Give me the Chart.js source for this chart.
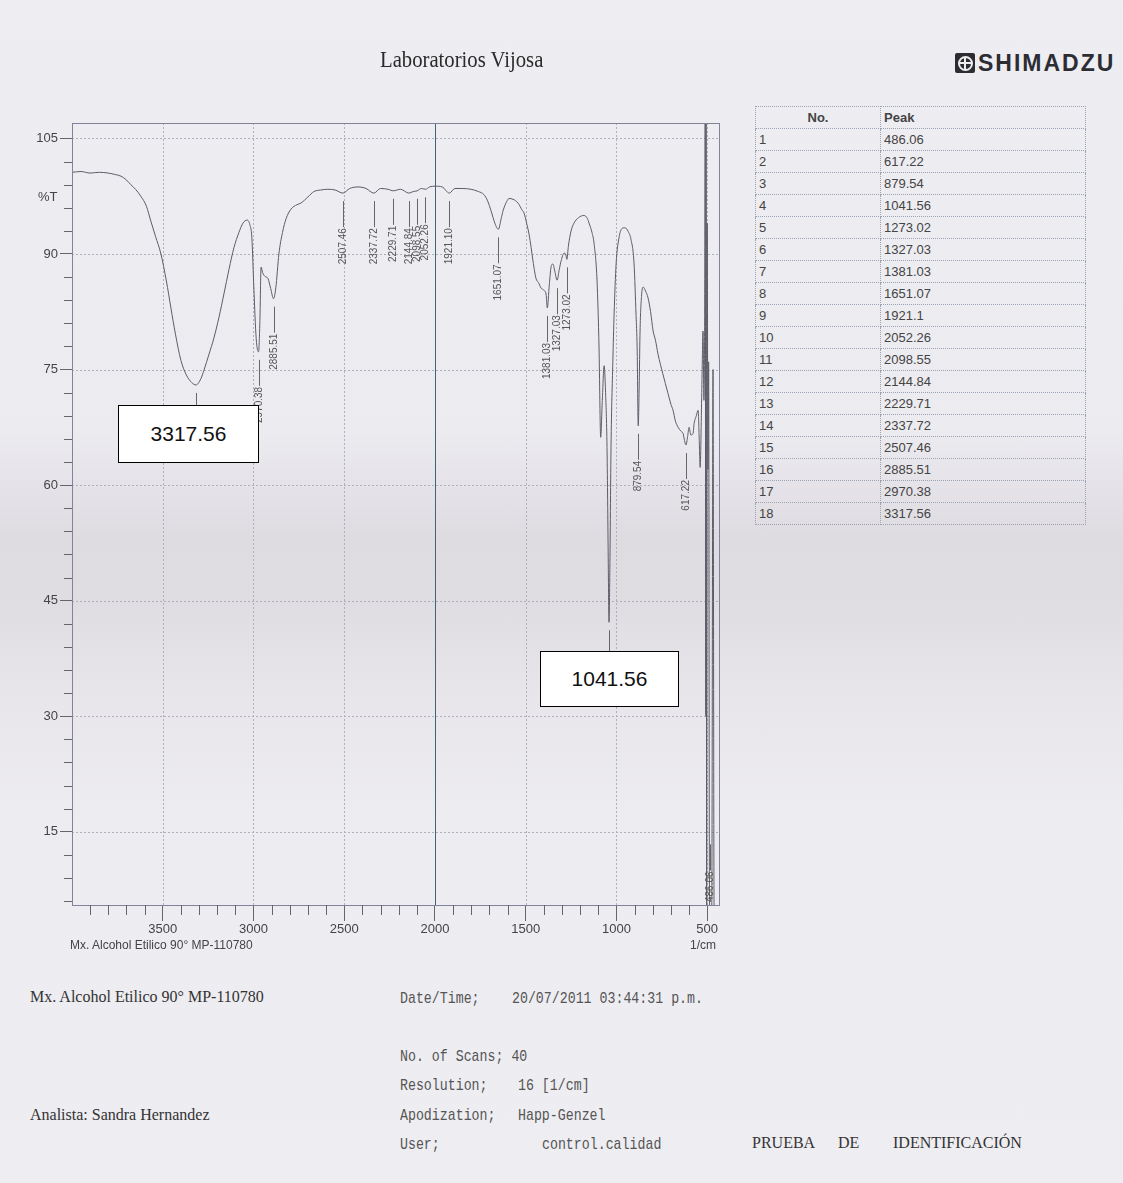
<!DOCTYPE html>
<html>
<head>
<meta charset="utf-8">
<title>Laboratorios Vijosa - Espectro IR</title>
<script src="https://cdn.jsdelivr.net/npm/chart.js@4/dist/chart.umd.min.js"></script>
<style>
html, body { margin: 0; padding: 0; }
body {
  width: 1123px; height: 1183px; position: relative; overflow: hidden;
  background: linear-gradient(to bottom, #eeedf2 0px, #ecebf0 430px, #dedbe1 540px, #dfdce2 600px, #e8e6eb 700px, #edecf0 820px, #eeedf1 1183px);
  font-family: "Liberation Sans", Arial, sans-serif; color: #333;
}
#chart { position: absolute; left: 0; top: 0; }
.abs { position: absolute; white-space: nowrap; }
.serif { font-family: "Liberation Serif", "Times New Roman", serif; color: #333; }
.mono { font-family: "Liberation Mono", "DejaVu Sans Mono", monospace; font-size: 17px; color: #555;
        transform: scaleX(0.78); transform-origin: left center; }
#title { left: 380px; top: 47px; font-size: 23px; transform: scaleX(0.9); transform-origin: left center; color: #2a2a2a; }
#logo { left: 955px; top: 51px; height: 24px; display: flex; align-items: center; }
#logo .mark { width: 20px; height: 20px; background: #2c2c33; border-radius: 2px; position: relative; margin-right: 3px; }
#logo .mark i { position: absolute; left: 3px; top: 3px; width: 11px; height: 11px; border: 2px solid #eee; border-radius: 50%; }
#logo .mark b { position: absolute; background: #eee; }
#logo span { font-weight: bold; font-size: 23px; letter-spacing: 2px; color: #2c2c33; }
#peaks { position: absolute; left: 755px; top: 106px; width: 331px; border-collapse: collapse;
         font-size: 13px; color: #444; }
#peaks td, #peaks th { border: 1px dotted #9aa3b4; height: 21px; padding: 0 3px; line-height: 14px; }
#peaks th { font-weight: bold; }
#peaks th.no { text-align: center; width: 118px; }
#peaks th.pk { text-align: left; }
.box { position: absolute; background: #fff; border: 1px solid #000; font-size: 21px; color: #111;
       display: flex; align-items: center; justify-content: center; }
</style>
</head>
<body>
<canvas id="chart" width="740" height="960"></canvas>

<div id="title" class="abs serif">Laboratorios Vijosa</div>
<div id="logo" class="abs">
  <div class="mark"><i></i><b style="left:9px;top:4px;width:2px;height:12px"></b><b style="left:4px;top:9px;width:12px;height:2px"></b></div>
  <span>SHIMADZU</span>
</div>

<table id="peaks"><thead><tr><th class="no">No.</th><th class="pk">Peak</th></tr></thead><tbody></tbody></table>

<div class="abs" style="left:38px;top:189px;font-size:13px;color:#444">%T</div>
<div class="box" style="left:118px;top:405px;width:139px;height:56px">3317.56</div>
<div class="box" style="left:540px;top:651px;width:137px;height:54px">1041.56</div>

<div class="abs" style="left:70px;top:938px;font-size:12px;color:#444">Mx. Alcohol Etilico 90° MP-110780</div>
<div class="abs" style="left:690px;top:938px;font-size:12px;color:#444">1/cm</div>

<div class="abs serif" style="left:30px;top:988px;font-size:16px">Mx. Alcohol Etilico 90° MP-110780</div>
<div class="abs serif" style="left:30px;top:1106px;font-size:16px">Analista: Sandra Hernandez</div>

<div class="abs mono" style="left:400px;top:989px">Date/Time;</div>
<div class="abs mono" style="left:512px;top:989px">20/07/2011 03:44:31 p.m.</div>
<div class="abs mono" style="left:400px;top:1047px">No. of Scans; 40</div>
<div class="abs mono" style="left:400px;top:1076px">Resolution;</div>
<div class="abs mono" style="left:518px;top:1076px">16 [1/cm]</div>
<div class="abs mono" style="left:400px;top:1106px">Apodization;</div>
<div class="abs mono" style="left:518px;top:1106px">Happ-Genzel</div>
<div class="abs mono" style="left:400px;top:1135px">User;</div>
<div class="abs mono" style="left:542px;top:1135px">control.calidad</div>

<div class="abs serif" style="left:752px;top:1134px;font-size:16px">PRUEBA</div>
<div class="abs serif" style="left:838px;top:1134px;font-size:16px">DE</div>
<div class="abs serif" style="left:893px;top:1134px;font-size:16px">IDENTIFICACIÓN</div>

<script>
// spectrum (wavenumber 1/cm, %T)
let wn = [4000, 3950, 3900, 3850, 3800, 3760, 3730, 3700, 3676, 3650, 3621, 3590, 3566, 3540, 3510, 3480,
  3455, 3430, 3400, 3370, 3340, 3317, 3290, 3273, 3245, 3218, 3190, 3163, 3135, 3108, 3080, 3058,
  3035, 3020, 3009, 2998, 2985, 2972, 2965, 2958, 2950, 2937, 2920, 2905, 2890, 2877, 2860, 2840,
  2820, 2794, 2760, 2739, 2700, 2667, 2630, 2590, 2550, 2507, 2470, 2424, 2380, 2337, 2300, 2260,
  2229, 2190, 2144, 2120, 2098, 2075, 2052, 2030, 2000, 1960, 1921, 1890, 1850, 1802, 1760, 1730,
  1710, 1691, 1670, 1651, 1635, 1625, 1605, 1592, 1570, 1542, 1520, 1509, 1495, 1482, 1470, 1460,
  1443, 1430, 1416, 1400, 1388, 1381, 1370, 1361, 1350, 1340, 1327, 1315, 1305, 1289, 1280, 1273,
  1265, 1250, 1234, 1210, 1179, 1160, 1151, 1135, 1123, 1107, 1096, 1087, 1078, 1068, 1060, 1052,
  1046, 1041, 1036, 1030, 1020, 1013, 1002, 986, 970, 953, 935, 920, 903, 892, 886, 880,
  874, 870, 862, 853, 840, 826, 812, 798, 785, 771, 745, 716, 700, 688, 675, 660,
  645, 633, 625, 617, 608, 600, 590, 578, 572, 560, 550, 544, 539, 530, 523, 518,
  514, 511, 508, 506, 503, 500, 496, 492, 488, 486, 475, 468, 462, 435];
let tr = [100.6, 100.7, 100.5, 100.6, 100.5, 100.3, 100.1, 99.6, 99.0, 98.4, 97.5, 96.2, 94.3, 92.3, 90.0, 86.5,
  83.0, 79.6, 76.2, 74.3, 73.3, 73.0, 73.8, 74.9, 77.0, 79.1, 81.8, 84.8, 88.0, 90.8, 92.8, 94.0,
  94.4, 93.8, 92.1, 85.6, 79.0, 77.3, 81.0, 88.3, 87.6, 87.1, 86.8, 85.5, 84.2, 85.6, 90.0, 92.8,
  94.6, 95.8, 96.4, 96.6, 97.4, 98.1, 98.3, 98.4, 98.3, 97.9, 98.5, 98.7, 98.5, 97.9, 98.5, 98.4,
  98.2, 98.4, 97.9, 98.1, 98.2, 98.5, 98.4, 98.7, 98.8, 98.7, 97.9, 98.5, 98.5, 98.4, 98.1, 97.7,
  96.9, 95.6, 94.0, 93.2, 94.6, 95.6, 96.8, 97.2, 97.1, 96.6, 95.7, 95.3, 94.0, 92.6, 90.8, 89.1,
  86.8, 86.3, 85.6, 85.3, 84.8, 83.0, 86.0, 88.2, 88.7, 87.8, 86.6, 88.0, 89.1, 90.1, 90.0, 89.3,
  91.0, 93.0, 94.0, 94.7, 95.0, 94.6, 94.0, 92.8, 91.3, 86.5, 77.8, 66.2, 71.0, 75.5, 72.0, 64.9,
  52.0, 42.2, 50.0, 64.9, 76.0, 82.2, 88.7, 92.1, 93.3, 93.4, 92.9, 91.9, 88.7, 82.0, 77.8, 67.7,
  74.0, 80.0, 84.5, 85.7, 85.2, 84.3, 82.5, 80.0, 78.8, 77.0, 74.5, 71.9, 70.5, 69.7, 68.3, 67.5,
  67.0, 66.7, 65.8, 65.2, 66.3, 67.5, 66.5, 66.7, 68.0, 69.0, 69.7, 66.0, 62.3, 72.0, 80.0, 71.0,
  82.0, 109, 30.0, 109, 5.0, 94.0, 62.0, 76.0, 10.0, 5.0, 5.0, 75.0, 5.0, 5.0];

// picked peaks (same list as the table) and %T at each
let peakWn = [486.06, 617.22, 879.54, 1041.56, 1273.02, 1327.03, 1381.03, 1651.07, 1921.1,
  2052.26, 2098.55, 2144.84, 2229.71, 2337.72, 2507.46, 2885.51, 2970.38, 3317.56];
let peakT = [5.0, 65.2, 67.7, 42.2, 89.3, 86.6, 83.0, 93.2, 97.9,
  98.4, 98.2, 97.9, 98.2, 97.9, 97.9, 84.2, 77.3, 73.0];

let xTicks = [3500, 3000, 2500, 2000, 1500, 1000, 500];
let yTicks = [15, 30, 45, 60, 75, 90, 105];

// peak table
let tbody = document.querySelector('#peaks tbody');
for (var i = 0; i < peakWn.length; i++) {
  let row = document.createElement('tr');
  row.innerHTML = '<td>' + (i + 1) + '</td><td>' + String(peakWn[i]) + '</td>';
  tbody.appendChild(row);
}

const irExtras = {
  id: 'irExtras',
  beforeDatasetsDraw(chart) {
    const {ctx, chartArea: a, scales: {x, y}} = chart;
    ctx.save();
    ctx.lineWidth = 1;
    ctx.strokeStyle = '#aeb0bc';
    ctx.setLineDash([2, 2]);
    yTicks.forEach(v => {
      let py = Math.round(y.getPixelForValue(v)) + 0.5;
      ctx.beginPath(); ctx.moveTo(a.left, py); ctx.lineTo(a.right, py); ctx.stroke();
    });
    xTicks.forEach(v => {
      if (v === 2000) return;
      let px = Math.round(x.getPixelForValue(v)) + 0.5;
      ctx.beginPath(); ctx.moveTo(px, a.top); ctx.lineTo(px, a.bottom); ctx.stroke();
    });
    ctx.setLineDash([]);
    ctx.strokeStyle = '#3f6577';
    let p2 = Math.round(x.getPixelForValue(2000)) + 0.5;
    ctx.beginPath(); ctx.moveTo(p2, a.top); ctx.lineTo(p2, a.bottom); ctx.stroke();
    ctx.restore();
  },
  afterDatasetsDraw(chart) {
    const {ctx, chartArea: a, scales: {x, y}} = chart;
    ctx.save();
    // frame
    ctx.lineWidth = 1;
    ctx.strokeStyle = '#80839a';
    ctx.strokeRect(Math.round(a.left) + 0.5, Math.round(a.top) + 0.5, Math.round(a.right - a.left), Math.round(a.bottom - a.top));
    // minor ticks
    ctx.strokeStyle = '#666';
    for (var v = 6; v <= 105; v += 3) {
      if (v % 15 === 0) continue;
      let py = Math.round(y.getPixelForValue(v)) + 0.5;
      ctx.beginPath(); ctx.moveTo(a.left - 8, py); ctx.lineTo(a.left, py); ctx.stroke();
    }
    for (var w = 600; w <= 3900; w += 100) {
      if (w % 500 === 0) continue;
      let px = Math.round(x.getPixelForValue(w)) + 0.5;
      ctx.beginPath(); ctx.moveTo(px, a.bottom); ctx.lineTo(px, a.bottom + 10); ctx.stroke();
    }
    // peak labels
    ctx.font = '10px "Liberation Sans", Arial, sans-serif';
    ctx.fillStyle = '#555';
    ctx.strokeStyle = '#666';
    for (var i = 0; i < peakWn.length; i++) {
      let px = Math.round(x.getPixelForValue(peakWn[i])) + 0.5;
      let txt = peakWn[i].toFixed(2);
      let tw = ctx.measureText(txt).width;
      let y0 = y.getPixelForValue(peakT[i]) + 8;
      let y1 = y0 + 26;
      if (y1 + tw > a.bottom - 4) { y1 = a.bottom - 4 - tw; y0 = y1 - 26; }
      ctx.beginPath(); ctx.moveTo(px, y0); ctx.lineTo(px, y1); ctx.stroke();
      ctx.save();
      ctx.translate(px, y1 + 1);
      ctx.rotate(-Math.PI / 2);
      ctx.textAlign = 'right';
      ctx.textBaseline = 'middle';
      ctx.fillText(txt, 0, 0);
      ctx.restore();
    }
    ctx.restore();
  }
};

function initChart() {
  const ctx = document.getElementById('chart').getContext('2d');
  let pts = [];
  for (var i = 0; i < wn.length; i++) pts.push({x: wn[i], y: tr[i]});

  return new Chart(ctx, {
    type: 'line',
    data: {
      datasets: [{
        label: 'Mx. Alcohol Etilico 90° MP-110780',
        data: pts,
        borderColor: '#5c5c68',
        borderWidth: 1,
        pointRadius: 0,
        cubicInterpolationMode: 'monotone',
        fill: false
      }]
    },
    options: {
      responsive: false,
      animation: false,
      devicePixelRatio: 1,
      layout: { padding: { left: 0, top: 123, right: 21, bottom: 20 } },
      plugins: { legend: { display: false }, tooltip: { enabled: false } },
      scales: {
        x: {
          type: 'linear',
          reverse: true,
          min: 435,
          max: 4000,
          afterBuildTicks: s => { s.ticks = xTicks.map(v => ({value: v})); },
          afterFit: s => { s.height = 35; },
          grid: { drawOnChartArea: false, tickLength: 16, tickColor: '#666' },
          border: { color: '#80839a' },
          ticks: { autoSkip: false, maxRotation: 0, padding: 1, color: '#444',
                   callback: v => String(v),
                   font: { family: '"Liberation Sans", Arial, sans-serif', size: 13 } }
        },
        y: {
          type: 'linear',
          min: 5.5,
          max: 107,
          afterBuildTicks: s => { s.ticks = yTicks.map(v => ({value: v})); },
          afterFit: s => { s.width = 72; },
          grid: { drawOnChartArea: false, tickLength: 12, tickColor: '#666' },
          border: { color: '#7b80b0' },
          ticks: { padding: 2, color: '#444', callback: v => String(v),
                   font: { family: '"Liberation Sans", Arial, sans-serif', size: 13 } }
        }
      }
    },
    plugins: [irExtras]
  });
}

initChart();
</script>
</body>
</html>
